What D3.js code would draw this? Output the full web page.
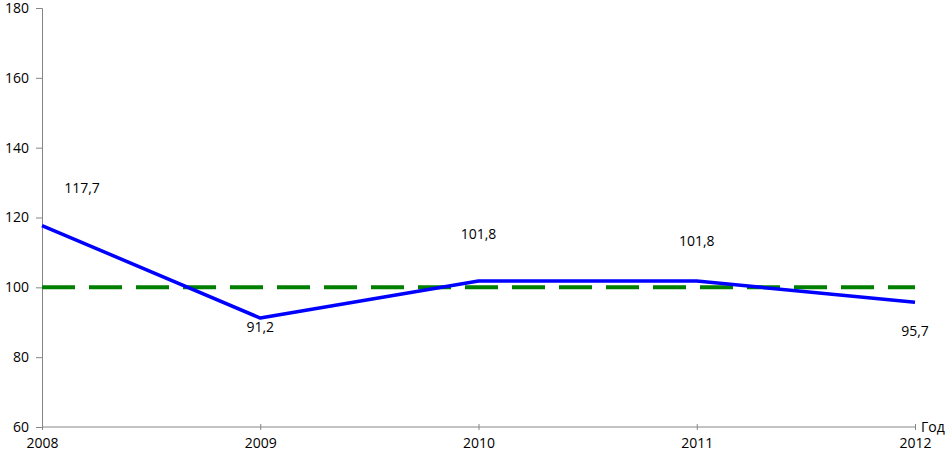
<!DOCTYPE html>
<html>
<head>
<meta charset="utf-8">
<script src="https://cdn.jsdelivr.net/npm/d3@7"></script>
<style>
  body { margin: 0; background: #fff; }
  text { font-family: "Open Sans", "DejaVu Sans", sans-serif; fill: #000; }
</style>
</head>
<body>
<div id="chart"></div>
<script>
// data
var years = [2008, 2009, 2010, 2011, 2012];
var values = [117.7, 91.2, 101.8, 101.8, 95.7];
var labels = ["117,7", "91,2", "101,8", "101,8", "95,7"];
var baseline = 100;
var yTicks = [60, 80, 100, 120, 140, 160, 180];

var svg = d3.select("#chart").append("svg")
            .attr("width", 947)
            .attr("height", 456);

var margin = { top: 8, right: 32, bottom: 29, left: 42 },
    width = 947 - margin.left - margin.right,
    height = 456 - margin.top - margin.bottom;

var g = svg.append("g").attr("transform", "translate(" + margin.left + "," + margin.top + ")");

var x = d3.scalePoint()
          .domain(years)
          .range([0, width]);

var y = d3.scaleLinear()
          .domain([60, 180])
          .range([height, 0]);

// y axis
var yAxis = g.append("g")
             .call(d3.axisLeft(y).tickValues(yTicks).tickSize(6).tickPadding(7));
yAxis.select(".domain").attr("stroke", "#868686");
yAxis.selectAll(".tick line").attr("stroke", "#868686");
yAxis.selectAll(".tick text").style("font-size", "14px");

// x axis
var xAxis = g.append("g")
             .attr("transform", "translate(0," + height + ")")
             .call(d3.axisBottom(x).tickSize(3).tickPadding(8).tickFormat(d3.format("d")));
xAxis.select(".domain").attr("stroke", "#868686").attr("d", "M0,0H" + width);
xAxis.selectAll(".tick line").attr("stroke", "#868686").attr("y1", -3);
xAxis.selectAll(".tick text").style("font-size", "14px");

g.append("text")
 .attr("x", width + 6)
 .attr("y", height)
 .attr("dy", "0.35em")
 .style("font-size", "14px")
 .text("Год");

// reference line at 100
g.append("line")
 .attr("x1", 0)
 .attr("x2", width)
 .attr("y1", y(baseline))
 .attr("y2", y(baseline))
 .attr("stroke", "#008000")
 .attr("stroke-width", 4)
 .attr("stroke-dasharray", "33,14");

var line = d3.line()
             .x((d, i) => x(years[i]))
             .y(d => y(d));

g.append("path")
 .datum(values)
 .attr("fill", "none")
 .attr("stroke", "#0000ff")
 .attr("stroke-width", 3.5)
 .attr("stroke-linejoin", "round")
 .attr("d", line);

// label offsets relative to each point (layout only)
var labelDx = [40, 0, 0, 0, 0];
var labelDy = [-33, 14, -42, -35, 34];

g.selectAll(".label")
 .data(values)
 .enter().append("text")
 .attr("class", "label")
 .attr("x", (d, i) => x(years[i]) + labelDx[i])
 .attr("y", (d, i) => y(d) + labelDy[i])
 .attr("text-anchor", "middle")
 .style("font-size", "14px")
 .text((d, i) => labels[i]);
</script>
</body>
</html>
